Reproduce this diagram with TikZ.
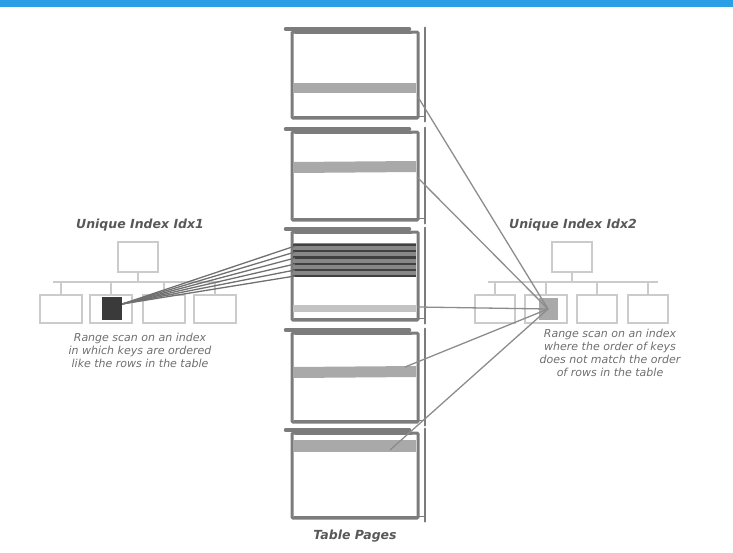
\documentclass[tikz,border=0pt]{standalone}
\usepackage{fontspec}
\setmainfont{DejaVu Sans}
\definecolor{topblue}{HTML}{2A9FE6}
\definecolor{pageline}{HTML}{7C7C7C}
\definecolor{bandgray}{HTML}{A9A9A9}
\definecolor{idxgray}{HTML}{CBCBCB}
\definecolor{txtgray}{HTML}{6E6E6E}
\definecolor{darkrow}{HTML}{404040}
\definecolor{conn}{HTML}{8C8C8C}
\begin{document}
\begin{tikzpicture}[x=1pt,y=-1pt,
  tpage/.style={draw=pageline, line width=3pt, minimum width=126pt, inner sep=0pt, rounded corners=1pt},
  idxbox/.style={draw=idxgray, line width=1.6pt, inner sep=0pt},
  idxline/.style={draw=idxgray, line width=1.6pt},
  band/.style={fill=bandgray, draw=none},
  conn/.style={draw=conn, line width=1.3pt},
  lconn/.style={draw=conn!80!black, line width=1.3pt},
  title/.style={font=\bfseries\itshape\fontsize{12.5}{14}\selectfont, text=txtgray!80!black},
  desc/.style={font=\itshape\fontsize{11}{13}\selectfont, text=txtgray, align=center}]
\useasboundingbox (0,0) rectangle (733,552);
\fill[topblue] (0,0) rectangle (733,7);

% ---------- table pages ----------
\node[tpage, minimum height=86pt] (p1) at (355,75) {};
\node[tpage, minimum height=88pt] (p2) at (355,176) {};
\node[tpage, minimum height=88pt] (p3) at (355,276) {};
\node[tpage, minimum height=89pt] (p4) at (355,377.5) {};
\node[tpage, minimum height=85pt] (p5) at (355,475.5) {};

% bands
\fill[band] (293,83) rectangle (416,93);
\fill[band] (293,162) -- (416,161) -- (416,172) -- (293,173) -- cycle;
\fill[bandgray!70!white] (293,305) rectangle (416,312);
\fill[band] (293,367) -- (416,366) -- (416,377) -- (293,378) -- cycle;
\fill[band] (293,440) rectangle (416,452);
% dark rows on page 3
\fill[bandgray!80!black] (293,243) rectangle (416,277);
\foreach \yy in {245,251,257.5,264,270,276}
  \draw[darkrow, line width=2.6pt] (293,\yy) -- (416,\yy);

% hand-drawn extra strokes for each page
\foreach \p in {p1,p2,p3,p4,p5}{
  \draw[pageline, line width=3.5pt, line cap=round] ([xshift=-5pt,yshift=1.5pt]\p.north west) -- ([xshift=-10pt,yshift=1.5pt]\p.north east);
  \draw[pageline, line width=1.5pt, line cap=round] ([xshift=5pt,yshift=-3pt]\p.north west) -- ([xshift=-8pt,yshift=-3pt]\p.north east);
  \draw[pageline, line width=2pt, line cap=round] ([xshift=5pt,yshift=3pt]\p.north east) -- ([xshift=5pt,yshift=-2pt]\p.south east);
  \draw[pageline, line width=1.5pt, line cap=round] ([xshift=4pt,yshift=3pt]\p.south west) -- ([xshift=4pt,yshift=3pt]\p.south east);
}
\node[title] (tp) at (355,536) {Table Pages};

% ---------- left index ----------
\node[title] (t1) at (140,225) {Unique Index Idx1};
\node[idxbox, minimum width=40pt, minimum height=30pt] (lr) at (138,257) {};
\node[idxbox, minimum width=42pt, minimum height=28pt] (lc1) at (61,309) {};
\node[idxbox, minimum width=42pt, minimum height=28pt] (lc2) at (111,309) {};
\node[idxbox, minimum width=42pt, minimum height=28pt] (lc3) at (164,309) {};
\node[idxbox, minimum width=42pt, minimum height=28pt] (lc4) at (215,309) {};
\coordinate (lbusL) at (53,282);
\coordinate (lbusR) at (220,282);
\draw[idxline] (lbusL) -- (lbusR);
\draw[idxline] (lr.south) -- (lr.south |- lbusL);
\foreach \c in {lc1,lc2,lc3,lc4}
  \draw[idxline] (\c.north) -- (\c.north |- lbusL);
\node[fill=darkrow!90!black, minimum width=20pt, minimum height=23pt, inner sep=0pt] (sq1) at (112,308) {};
\foreach \i/\yy in {1/246,2/252,3/258,4/264,5/270,6/276}{
  \coordinate (l\i) at (295,\yy);
  \draw[lconn] ([yshift=4pt]sq1.east) -- (l\i);
}
\node[desc] (d1) at (140,350) {Range scan on an index\\in which keys are ordered\\like the rows in the table};

% ---------- right index ----------
\node[title] (t2) at (573,225) {Unique Index Idx2};
\node[idxbox, minimum width=40pt, minimum height=30pt] (rr) at (572,257) {};
\node[idxbox, minimum width=40pt, minimum height=28pt] (rc1) at (495,309) {};
\node[idxbox, minimum width=42pt, minimum height=28pt] (rc2) at (546,309) {};
\node[idxbox, minimum width=40pt, minimum height=28pt] (rc3) at (597,309) {};
\node[idxbox, minimum width=40pt, minimum height=28pt] (rc4) at (648,309) {};
\coordinate (rbusL) at (488,282);
\coordinate (rbusR) at (658,282);
\draw[idxline] (rbusL) -- (rbusR);
\draw[idxline] (rr.south) -- (rr.south |- rbusL);
\foreach \c in {rc1,rc2,rc3,rc4}
  \draw[idxline] (\c.north) -- (\c.north |- rbusL);
\node[fill=bandgray, minimum width=19pt, minimum height=22pt, inner sep=0pt] (sq2) at (548,309) {};
\coordinate (r1) at (418,97);
\coordinate (r2) at (417,177);
\coordinate (r3) at (418,307);
\coordinate (r4) at (405,367);
\coordinate (r5) at (390,450);
\foreach \i in {1,...,5}
  \draw[conn] (sq2.center) -- (r\i);
\node[desc] (d2) at (610,352.5) {Range scan on an index\\where the order of keys\\does not match the order\\of rows in the table};
\end{tikzpicture}
\end{document}
